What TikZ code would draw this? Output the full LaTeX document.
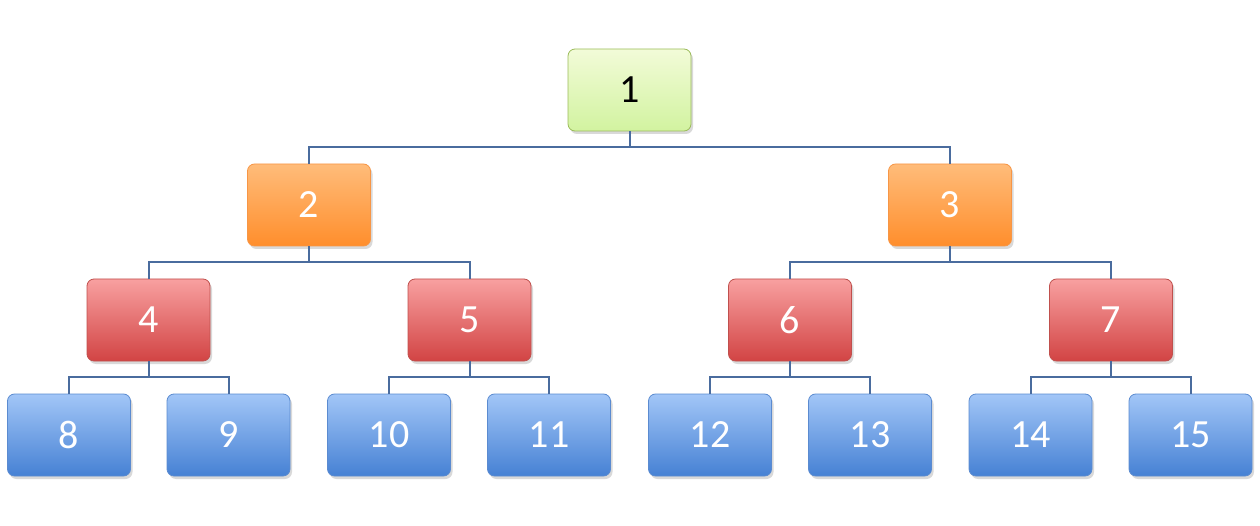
\documentclass[tikz,border=0pt]{standalone}
\usepackage{fontspec}
\setmainfont{Carlito}
\usetikzlibrary{shadows}
\definecolor{gtop}{HTML}{F2FBD8}
\definecolor{gbot}{HTML}{D2F3A0}
\definecolor{gbor}{HTML}{9BBB59}
\definecolor{otop}{HTML}{FFBC7A}
\definecolor{obot}{HTML}{FF8E2C}
\definecolor{obor}{HTML}{F79646}
\definecolor{rtop}{HTML}{F8A0A0}
\definecolor{rbot}{HTML}{D24444}
\definecolor{rbor}{HTML}{C0504D}
\definecolor{btop}{HTML}{A2C6F7}
\definecolor{bbot}{HTML}{4681D4}
\definecolor{bbor}{HTML}{5B8BD0}
\definecolor{conn}{HTML}{4A6C9E}
\tikzset{
  box/.style={rounded corners=7pt, minimum width=123pt, minimum height=82pt, inner sep=0pt,
    font=\fontsize{40}{48}\selectfont, text=white, line width=0.8pt,
    drop shadow={shadow xshift=2pt, shadow yshift=-3pt, opacity=0.25, fill=black!60}},
  gbox/.style={box, draw=gbor, top color=gtop, bottom color=gbot, text=black},
  obox/.style={box, draw=obor, top color=otop, bottom color=obot},
  rbox/.style={box, draw=rbor, top color=rtop, bottom color=rbot},
  bbox/.style={box, draw=bbor, top color=btop, bottom color=bbot},
  link/.style={draw=conn, line width=2pt}
}
\begin{document}
\begin{tikzpicture}[x=1pt,y=-1pt]
\useasboundingbox (0,0) rectangle (1260,526);
\node[gbox] (n1) at (629.5,90) {1};
\node[obox] (n2) at (309,205) {2};
\node[obox] (n3) at (950,205) {3};
\node[rbox] (n4) at (148.5,320) {4};
\node[rbox] (n5) at (469.5,320) {5};
\node[rbox] (n6) at (790,320) {6};
\node[rbox] (n7) at (1111,320) {7};
\node[bbox] (n8) at (69,435) {8};
\node[bbox] (n9) at (228.5,435) {9};
\node[bbox] (n10) at (389,435) {10};
\node[bbox] (n11) at (549,435) {11};
\node[bbox] (n12) at (710,435) {12};
\node[bbox] (n13) at (870,435) {13};
\node[bbox] (n14) at (1030.5,435) {14};
\node[bbox] (n15) at (1190.5,435) {15};
\foreach \p/\a/\b in {n1/n2/n3, n2/n4/n5, n3/n6/n7, n4/n8/n9, n5/n10/n11, n6/n12/n13, n7/n14/n15}{
  \path (\p.south) ++(0,16) coordinate (mid\p);
  \draw[link] (\p.south) -- (mid\p);
  \draw[link] (\a.north) -- (\a.north |- mid\p) -- (\b.north |- mid\p) -- (\b.north);
}
\end{tikzpicture}
\end{document}
